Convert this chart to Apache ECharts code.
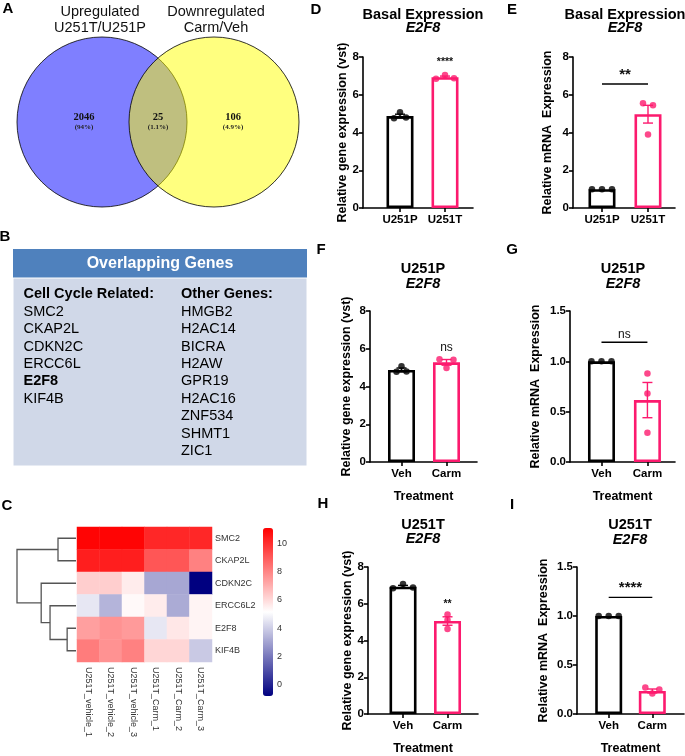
<!DOCTYPE html>
<html><head><meta charset="utf-8">
<script src="https://cdn.jsdelivr.net/npm/echarts@6/dist/echarts.min.js"></script>
<style>html,body{margin:0;padding:0;background:#fff}#c{width:685px;height:756px}</style>
</head><body><div id="c"></div>
<script>
// ================= DATA =================
// Panel A (Venn)
const vennSetLabels = ['Upregulated\nU251T/U251P', 'Downregulated\nCarm/Veh'];
const vennCounts = [2046, 25, 106];
const vennPercents = ['(94%)', '(1.1%)', '(4.9%)'];

// Panel B (table)
const tableTitle = 'Overlapping Genes';
const cellCycleHeader = 'Cell Cycle Related:';
const cellCycleGenes = ['SMC2', 'CKAP2L', 'CDKN2C', 'ERCC6L', 'E2F8', 'KIF4B'];
const highlightedGene = 'E2F8';
const otherHeader = 'Other Genes:';
const otherGenes = ['HMGB2', 'H2AC14', 'BICRA', 'H2AW', 'GPR19', 'H2AC16', 'ZNF534', 'SHMT1', 'ZIC1'];

// Panel C (heatmap)
const heatSamples = ['U251T_vehicle_1', 'U251T_vehicle_2', 'U251T_vehicle_3', 'U251T_Carm_1', 'U251T_Carm_2', 'U251T_Carm_3'];
const heatGenes = ['SMC2', 'CKAP2L', 'CDKN2C', 'ERCC6L2', 'E2F8', 'KIF4B'];
const heatSMC2 = [11.0, 11.0, 11.0, 10.2, 10.2, 10.2];
const heatCKAP2L = [10.4, 10.4, 10.4, 9.1, 9.1, 8.1];
const heatCDKN2C = [6.3, 6.3, 5.6, 3.1, 3.1, -0.8];
const heatERCC6L2 = [4.6, 3.4, 5.3, 5.6, 3.2, 5.4];
const heatE2F8 = [7.4, 7.7, 7.5, 4.6, 5.7, 5.4];
const heatKIF4B = [8.2, 7.7, 8.1, 6.1, 6.1, 3.9];
const heatRows = [heatSMC2, heatCKAP2L, heatCDKN2C, heatERCC6L2, heatE2F8, heatKIF4B];
const heatScaleMin = -0.8, heatScaleMax = 11.1;
const heatScaleTicks = [0, 2, 4, 6, 8, 10];
// dendrogram merges: [height, rowPosA, rowPosB, childHeightA, childHeightB]
const dendroMerges = [
  [3.05, 0, 1, 0, 0],
  [1.5, 4, 5, 0, 0],
  [4.4, 3, 4.5, 0, 1.5],
  [5.9, 2, 3.75, 0, 4.4],
  [10, 0.5, 2.875, 3.05, 5.9]
];

// Bar panels
const groupsBasal = ['U251P', 'U251T'];
const groupsTreat = ['Veh', 'Carm'];

const dMeans = [4.87, 6.93], dSems = [0.1, 0.06];
const dPoints = [[4.75, 5.07, 4.8], [6.85, 7.05, 6.88]];
const dSig = [[1, 1, 7.45, '****']];

const eMeans = [1.0, 4.97], eSems = [0, 0.47];
const ePoints = [[1.0, 1.0, 1.0], [5.55, 3.9, 5.45]];
const eSig = [[0, 1, 6.57, '**']];

const fMeans = [4.88, 5.28], fSems = [0.1, 0.15];
const fPoints = [[4.78, 5.07, 4.8], [5.45, 4.98, 5.42]];
const fSig = [[1, 1, 5.75, 'ns']];

const gMeans = [1.0, 0.615], gSems = [0, 0.175];
const gPoints = [[1.0, 1.0, 1.0], [0.88, 0.68, 0.29]];
const gSig = [[0, 1, 1.19, 'ns']];

const hMeans = [6.93, 5.06], hSems = [0.07, 0.23];
const hPoints = [[6.85, 7.07, 6.88], [5.42, 5.12, 4.63]];
const hSig = [[1, 1, 5.7, '**']];

const iMeans = [1.0, 0.235], iSems = [0, 0.02];
const iPoints = [[1.0, 1.0, 1.0], [0.27, 0.21, 0.25]];
const iSig = [[0, 1, 1.19, '****']];

// ================= STYLE / LAYOUT =================
const FONT = '"Liberation Sans", Arial, Helvetica, sans-serif';
const SERIF = '"Liberation Serif", "Times New Roman", serif';
const PINK = '#fc1a6e';
const BLACK = '#000000';

const panels = [
  {letter:'D', lx:316, ly:10, title:'Basal Expression', tx:423, ty:15, gy:28,
   grid:{left:363, top:57, width:110, height:151}, xmin:-0.822, xmax:1.622, ymax:8, yint:2, dec:0,
   yname:'Relative gene expression (vst)', nameGap:12, xname:'',
   groups:groupsBasal, means:dMeans, sems:dSems, points:dPoints, sig:dSig,
   offsets:[[-6,0,6],[-9,0,9]], sigFont:'10.5px'},
  {letter:'E', lx:512, ly:10, title:'Basal Expression', tx:625, ty:15, gy:28,
   grid:{left:573, top:57, width:102, height:151}, xmin:-0.63, xmax:1.587, ymax:8, yint:2, dec:0,
   yname:'Relative mRNA  Expression', nameGap:19, xname:'',
   groups:groupsBasal, means:eMeans, sems:eSems, points:ePoints, sig:eSig,
   offsets:[[-10,0,10],[-5,0,5]], sigFont:'15px'},
  {letter:'F', lx:321, ly:250, title:'U251P', tx:423, ty:269, gy:284,
   grid:{left:370, top:311, width:107, height:151}, xmin:-0.7, xmax:1.678, ymax:8, yint:2, dec:0,
   yname:'Relative gene expression (vst)', nameGap:17, xname:'Treatment',
   groups:groupsTreat, means:fMeans, sems:fSems, points:fPoints, sig:fSig,
   offsets:[[-5,0,5],[-7,0,7]], sigFont:'12px'},
  {letter:'G', lx:512, ly:250, title:'U251P', tx:623, ty:269, gy:284,
   grid:{left:570, top:311, width:105, height:151}, xmin:-0.685, xmax:1.6, ymax:1.5, yint:0.5, dec:1,
   yname:'Relative mRNA  Expression', nameGap:28, xname:'Treatment',
   groups:groupsTreat, means:gMeans, sems:gSems, points:gPoints, sig:gSig,
   offsets:[[-10,0,10],[0,0,0]], sigFont:'12px'},
  {letter:'H', lx:323, ly:504, title:'U251T', tx:423, ty:525, gy:539,
   grid:{left:368, top:567, width:110, height:152}, xmin:-0.787, xmax:1.685, ymax:8, yint:2, dec:0,
   yname:'Relative gene expression (vst)', nameGap:14, xname:'Treatment',
   groups:groupsTreat, means:hMeans, sems:hSems, points:hPoints, sig:hSig,
   offsets:[[-10,0,10],[0,0,0]], sigFont:'10.5px'},
  {letter:'I', lx:512, ly:505, title:'U251T', tx:630, ty:525, gy:540,
   grid:{left:577, top:567, width:107, height:151}, xmin:-0.727, xmax:1.727, ymax:1.5, yint:0.5, dec:1,
   yname:'Relative mRNA  Expression', nameGap:27, xname:'Treatment',
   groups:groupsTreat, means:iMeans, sems:iSems, points:iPoints, sig:iSig,
   offsets:[[-10,0,10],[-7,0,7]], sigFont:'15px'}
];
const groupColors = [BLACK, PINK];

// ================= BUILD =================
const grids = [], xAxes = [], yAxes = [], series = [], graphics = [];

function txt(text, x, y, font, opts) {
  opts = opts || {};
  return {type:'text', x:x, y:y, silent:true, z:opts.z || 10,
    style:{text:text, font:font, fill:opts.fill || '#000', align:opts.align || 'center', verticalAlign:opts.va || 'middle', lineHeight:opts.lh}};
}

// ---- Panel letters ----
[['A',8,9],['B',5,237],['C',7,506]].forEach(function(l){ graphics.push(txt(l[0], l[1], l[2], 'bold 15px ' + FONT)); });

// ---- Venn (A) ----
graphics.push({type:'circle', shape:{cx:102, cy:122, r:85}, style:{fill:'rgba(0,0,255,0.5)', stroke:'#000', lineWidth:0.8}, z:1});
graphics.push({type:'circle', shape:{cx:214, cy:122, r:85}, style:{fill:'rgba(255,255,0,0.5)', stroke:'#000', lineWidth:0.8}, z:2});
graphics.push(txt(vennSetLabels[0], 100, 20, '14.5px ' + FONT, {lh:16, fill:'#111'}));
graphics.push(txt(vennSetLabels[1], 216, 20, '14.5px ' + FONT, {lh:16, fill:'#111'}));
const vennX = [84, 158, 233];
vennCounts.forEach(function(c, i){
  graphics.push(txt(String(c), vennX[i], 117, 'bold 10.5px ' + SERIF, {fill:'#111'}));
  graphics.push(txt(vennPercents[i], vennX[i], 127, 'bold 7px ' + SERIF, {fill:'#222'}));
});

// ---- Table (B) ----
graphics.push({type:'rect', shape:{x:13, y:249, width:294, height:29}, style:{fill:'#4f81bd'}, z:1});
graphics.push({type:'rect', shape:{x:13, y:278, width:294, height:188}, style:{fill:'#d0d8e8', stroke:'#ffffff', lineWidth:1}, z:1});
graphics.push(txt(tableTitle, 160, 264, 'bold 16px ' + FONT, {fill:'#ffffff'}));
const rowY0 = 294.3, rowStep = 17.43;
graphics.push(txt(cellCycleHeader, 23.5, rowY0, 'bold 14.5px ' + FONT, {align:'left'}));
cellCycleGenes.forEach(function(g, i){
  graphics.push(txt(g, 23.5, rowY0 + rowStep * (i + 1), (g === highlightedGene ? 'bold ' : '') + '14.5px ' + FONT, {align:'left'}));
});
graphics.push(txt(otherHeader, 181, rowY0, 'bold 14.5px ' + FONT, {align:'left'}));
otherGenes.forEach(function(g, i){
  graphics.push(txt(g, 181, rowY0 + rowStep * (i + 1), '14.5px ' + FONT, {align:'left'}));
});

// ---- Heatmap (C) ----
const heatGridIdx = grids.length;
grids.push({left:77, top:527, width:135, height:135});
xAxes.push({gridIndex:heatGridIdx, type:'category', data:heatSamples, axisLine:{show:false}, axisTick:{show:false}, splitLine:{show:false},
  axisLabel:{rotate:-90, fontSize:9, color:'#333', fontFamily:FONT, margin:5, interval:0}});
yAxes.push({gridIndex:heatGridIdx, type:'category', data:heatGenes, inverse:true, position:'right', axisLine:{show:false}, axisTick:{show:false}, splitLine:{show:false},
  axisLabel:{fontSize:9, color:'#333', fontFamily:FONT, margin:3, interval:0}});
const heatData = [];
heatRows.forEach(function(row, r){ row.forEach(function(v, c){ heatData.push([c, r, v]); }); });
const heatSeriesIdx = series.length;
series.push({type:'heatmap', xAxisIndex:xAxes.length - 1, yAxisIndex:yAxes.length - 1, data:heatData, itemStyle:{borderWidth:0}, emphasis:{disabled:true}});

// dendrogram
const dGridIdx = grids.length;
grids.push({left:17, top:527, width:59, height:135});
xAxes.push({gridIndex:dGridIdx, type:'value', min:0, max:10, inverse:true, show:false});
yAxes.push({gridIndex:dGridIdx, type:'value', min:-0.5, max:5.5, inverse:true, show:false});
series.push({type:'custom', xAxisIndex:xAxes.length - 1, yAxisIndex:yAxes.length - 1, data:dendroMerges, silent:true,
  renderItem:function(params, api){
    const h = api.value(0), a = api.value(1), b = api.value(2), ha = api.value(3), hb = api.value(4);
    const p1 = api.coord([ha, a]), p2 = api.coord([h, a]), p3 = api.coord([h, b]), p4 = api.coord([hb, b]);
    return {type:'polyline', shape:{points:[p1, p2, p3, p4]}, style:{stroke:'#555', lineWidth:1.3, fill:null}};
  }});

// colour bar axis
const cbGridIdx = grids.length;
grids.push({left:263, top:528, width:10, height:168});
xAxes.push({gridIndex:cbGridIdx, type:'value', show:false, min:0, max:1});
yAxes.push({gridIndex:cbGridIdx, type:'value', position:'right', min:heatScaleMin, max:heatScaleMax,
  axisLine:{show:false}, splitLine:{show:false},
  axisTick:{show:true, length:2, inside:false, customValues:heatScaleTicks, lineStyle:{color:'#999', width:0.6}},
  axisLabel:{customValues:heatScaleTicks, fontSize:9, color:'#333', fontFamily:FONT, margin:4}});
series.push({type:'scatter', xAxisIndex:xAxes.length - 1, yAxisIndex:yAxes.length - 1, data:[], silent:true});

// ---- Bar panels ----
panels.forEach(function(p){
  graphics.push(txt(p.letter, p.lx, p.ly, 'bold 15px ' + FONT));
  graphics.push(txt(p.title, p.tx, p.ty, 'bold 14.5px ' + FONT));
  graphics.push(txt('E2F8', p.tx, p.gy, 'italic bold 14.5px ' + FONT));
  const gi = grids.length;
  grids.push(p.grid);
  const axLine = {show:true, onZero:false, lineStyle:{color:BLACK, width:1.6}};
  xAxes.push({gridIndex:gi, type:'value', min:p.xmin, max:p.xmax, axisLine:axLine, splitLine:{show:false},
    axisTick:{show:true, length:4, customValues:[0, 1], lineStyle:{color:BLACK, width:1.6}},
    axisLabel:{customValues:[0, 1], formatter:function(v){ return p.groups[Math.round(v)]; }, color:BLACK, fontWeight:'bold', fontSize:11.5, fontFamily:FONT, margin:6},
    name:p.xname, nameLocation:'middle', nameGap:28, nameTextStyle:{color:BLACK, fontWeight:'bold', fontSize:12.5, fontFamily:FONT}});
  yAxes.push({gridIndex:gi, type:'value', min:0, max:p.ymax, interval:p.yint, axisLine:axLine, splitLine:{show:false},
    axisTick:{show:true, length:4, lineStyle:{color:BLACK, width:1.6}},
    axisLabel:{formatter:function(v){ return v.toFixed(p.dec); }, color:BLACK, fontWeight:'bold', fontSize:11.5, fontFamily:FONT, margin:4},
    name:p.yname, nameLocation:'middle', nameGap:p.nameGap, nameTextStyle:{color:BLACK, fontWeight:'bold', fontSize:12.5, fontFamily:FONT}});
  const xi = xAxes.length - 1, yi = yAxes.length - 1;
  // bars
  series.push({type:'bar', xAxisIndex:xi, yAxisIndex:yi, barWidth:27, silent:true, z:2,
    data:p.means.map(function(m, g){ return {value:[g, m], itemStyle:{color:'#ffffff', borderColor:groupColors[g], borderWidth:2.6}}; })});
  // error bars
  series.push({type:'custom', xAxisIndex:xi, yAxisIndex:yi, silent:true, z:3,
    data:p.means.map(function(m, g){ return {value:[g, m, p.sems[g]], itemStyle:{color:groupColors[g]}}; }),
    renderItem:function(params, api){
      const x = api.value(0), m = api.value(1), s = api.value(2);
      if (!s) return null;
      const col = api.visual('color');
      const t = api.coord([x, m + s]), b = api.coord([x, m - s]);
      const st = {stroke:col, lineWidth:1.4};
      return {type:'group', children:[
        {type:'line', shape:{x1:t[0], y1:t[1], x2:b[0], y2:b[1]}, style:st},
        {type:'line', shape:{x1:t[0] - 5, y1:t[1], x2:t[0] + 5, y2:t[1]}, style:st},
        {type:'line', shape:{x1:b[0] - 5, y1:b[1], x2:b[0] + 5, y2:b[1]}, style:st}
      ]};
    }});
  // points
  const pts = [];
  p.points.forEach(function(arr, g){
    arr.forEach(function(v, k){
      pts.push({value:[g, v], symbolOffset:[p.offsets[g][k], 0], itemStyle:{color:groupColors[g]}});
    });
  });
  series.push({type:'scatter', xAxisIndex:xi, yAxisIndex:yi, symbol:'circle', symbolSize:6.5, silent:true, z:4, data:pts});
  // significance
  series.push({type:'custom', xAxisIndex:xi, yAxisIndex:yi, silent:true, z:5, data:p.sig.map(function(s){ return [s[0], s[1], s[2]]; }),
    renderItem:function(params, api){
      const s = p.sig[params.dataIndex];
      const a = api.coord([s[0], s[2]]), b = api.coord([s[1], s[2]]);
      const children = [];
      if (s[0] !== s[1]) {
        children.push({type:'line', shape:{x1:a[0], y1:a[1], x2:b[0], y2:b[1]}, style:{stroke:BLACK, lineWidth:1.4}});
      }
      const isStar = s[3].indexOf('*') >= 0;
      children.push({type:'text', x:(a[0] + b[0]) / 2, y:a[1] - (s[0] !== s[1] ? 2 : 0),
        style:{text:s[3], font:(isStar ? 'bold ' : '') + p.sigFont + ' ' + FONT, fill:'#111', align:'center', verticalAlign:'bottom'}});
      return {type:'group', children:children};
    }});
});

const chart = echarts.init(document.getElementById('c'), null, {renderer:'canvas'});
chart.setOption({
  animation:false,
  backgroundColor:'#ffffff',
  grid:grids,
  xAxis:xAxes,
  yAxis:yAxes,
  visualMap:[{type:'continuous', seriesIndex:heatSeriesIdx, min:heatScaleMin, max:heatScaleMax, calculable:false, realtime:false,
    inRange:{color:['#000080', '#ffffff', '#ff0000']}, left:263, top:528, itemWidth:10, itemHeight:168, padding:0, text:null, showLabel:false, orient:'vertical'}],
  series:series,
  graphic:graphics
});
</script></body></html>
